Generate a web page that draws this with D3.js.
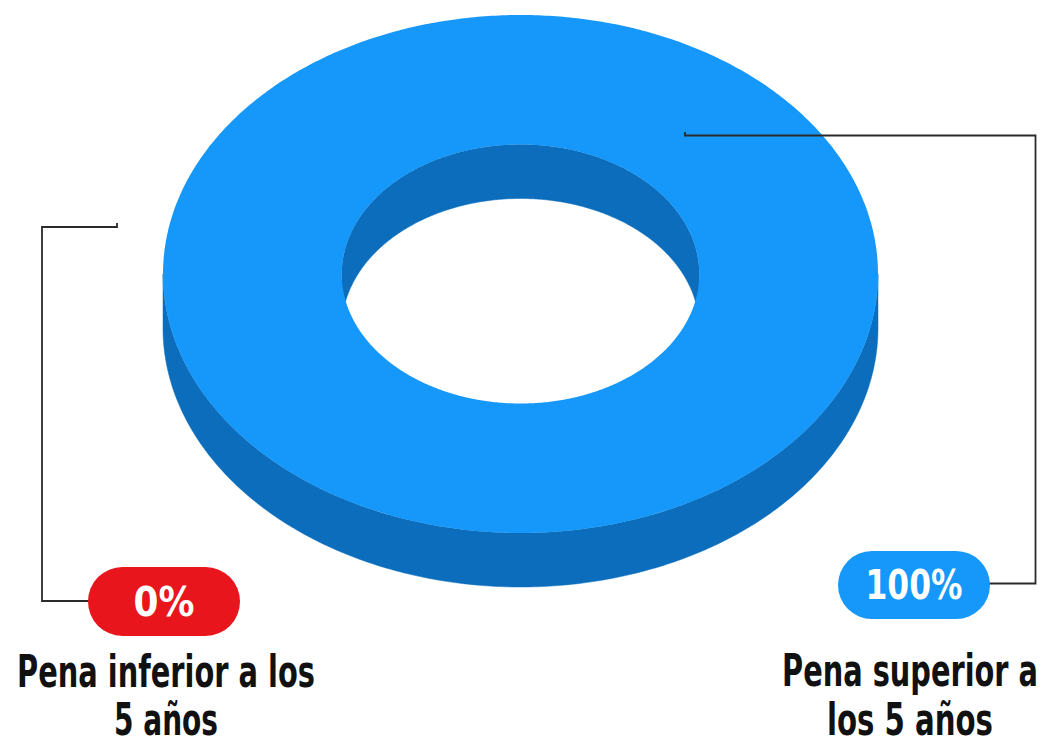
<!DOCTYPE html>
<html>
<head>
<meta charset="utf-8">
<script src="https://cdn.jsdelivr.net/npm/d3@7"></script>
<style>
  html, body { margin: 0; padding: 0; background: #ffffff; }
  svg { display: block; }
</style>
</head>
<body>
<svg id="chart" width="1048" height="746"></svg>
<script>
// ---- data ----
const categories = ["Pena inferior a los 5 años", "Pena superior a los 5 años"];
const values = [0, 100];
const pctLabels = ["0%", "100%"];
const labelLines = [["Pena inferior a los", "5 años"], ["Pena superior a", "los 5 años"]];
const topColors = ["#e8161c", "#1598f9"];
const sideColors = ["#a80f14", "#0b6dbc"];

// ---- layout ----
const W = 1048, H = 746;
const cx = 520.5, cy = 274, rx = 357.5, ry = 259, ir = 0.5, depth = 54;
const TAU = Math.PI * 2;

const svg = d3.select("#chart");

const pie = d3.pie().sort(null).value(d => d)(values);

function pt(a, r, dy) {
  return [cx + rx * r * Math.sin(a), cy - ry * r * Math.cos(a) + (dy || 0)];
}
function arcPts(a0, a1, r, dy) {
  const n = Math.max(2, Math.ceil(Math.abs(a1 - a0) / 0.01));
  return d3.range(n + 1).map(i => pt(a0 + (a1 - a0) * i / n, r, dy));
}
const line = d3.line();

function topPath(s) {
  const full = s.endAngle - s.startAngle >= TAU - 1e-9;
  if (full) {
    return line(arcPts(0, TAU, 1)) + "Z" + line(arcPts(TAU, 0, ir)) + "Z";
  }
  return line(arcPts(s.startAngle, s.endAngle, 1).concat(arcPts(s.endAngle, s.startAngle, ir))) + "Z";
}
function wallPaths(s, r, lo, hi) {
  const full = s.endAngle - s.startAngle >= TAU - 1e-9;
  const out = [];
  const ranges = full ? [[lo, hi]] : [[lo, hi], [lo + TAU, hi + TAU], [lo - TAU, hi - TAU]];
  ranges.forEach(([l, h]) => {
    const a0 = full ? l : Math.max(s.startAngle, l);
    const a1 = full ? h : Math.min(s.endAngle, h);
    if (a1 - a0 > 1e-6) {
      out.push(line(arcPts(a0, a1, r).concat(arcPts(a1, a0, r, depth))) + "Z");
    }
  });
  return out;
}

const g = svg.append("g");
const slices = pie.filter(s => s.endAngle - s.startAngle > 1e-9);

// inner walls (back half)
slices.forEach(s => {
  wallPaths(s, ir, -Math.PI / 2, Math.PI / 2).forEach(d =>
    g.append("path").attr("d", d).attr("fill", sideColors[s.index]).attr("stroke", sideColors[s.index]).attr("stroke-width", 0.5));
});
// outer walls (front half)
slices.forEach(s => {
  wallPaths(s, 1, Math.PI / 2, 3 * Math.PI / 2).forEach(d =>
    g.append("path").attr("d", d).attr("fill", sideColors[s.index]).attr("stroke", sideColors[s.index]).attr("stroke-width", 0.5));
});
// top faces
slices.forEach(s => {
  g.append("path").attr("d", topPath(s)).attr("fill", topColors[s.index]).attr("fill-rule", "evenodd");
});

// ---- leader lines ----
const leaders = [
  "M117,223 V227 H42 V601 H90",
  "M685,132 V135.5 H1035.5 V583.5 H988"
];
svg.selectAll("path.leader").data(leaders).join("path")
  .attr("class", "leader")
  .attr("d", d => d)
  .attr("fill", "none")
  .attr("stroke", "#2b2b2b")
  .attr("stroke-width", 1.8);

// ---- pills and labels ----
const pills = [
  { x: 88, y: 567, w: 152, h: 69, tw: 61, base: 616 },
  { x: 838, y: 551, w: 152, h: 68, tw: 97, base: 599 }
];
const labelPos = [
  { cx: 166, base: [687, 735], tw: [298, 104] },
  { cx: 910, base: [686, 735], tw: [256, 166] }
];
const fontFam = "'Liberation Sans Narrow', 'DejaVu Sans Condensed', 'DejaVu Sans', sans-serif";

// text squeezed horizontally to a target width via a scale transform
function fittedText(x, y, str, size, fill, targetW) {
  const t = svg.append("text")
    .attr("x", 0).attr("y", 0)
    .attr("text-anchor", "middle")
    .attr("font-family", fontFam)
    .attr("font-stretch", "condensed")
    .attr("font-weight", "bold")
    .attr("font-size", size)
    .attr("fill", fill)
    .text(str);
  const w = t.node().getComputedTextLength();
  const sx = w > 0 ? targetW / w : 1;
  t.attr("transform", `translate(${x},${y}) scale(${sx},1)`);
  return t;
}

categories.forEach((c, i) => {
  const p = pills[i];
  svg.append("rect")
    .attr("x", p.x).attr("y", p.y).attr("width", p.w).attr("height", p.h)
    .attr("rx", p.h / 2).attr("ry", p.h / 2)
    .attr("fill", topColors[i]);
  fittedText(p.x + p.w / 2, p.base, pctLabels[i], 40, "#ffffff", p.tw);

  const L = labelPos[i];
  labelLines[i].forEach((t, j) => {
    fittedText(L.cx, L.base[j], t, 44, "#111111", L.tw[j]);
  });
});
</script>
</body>
</html>
